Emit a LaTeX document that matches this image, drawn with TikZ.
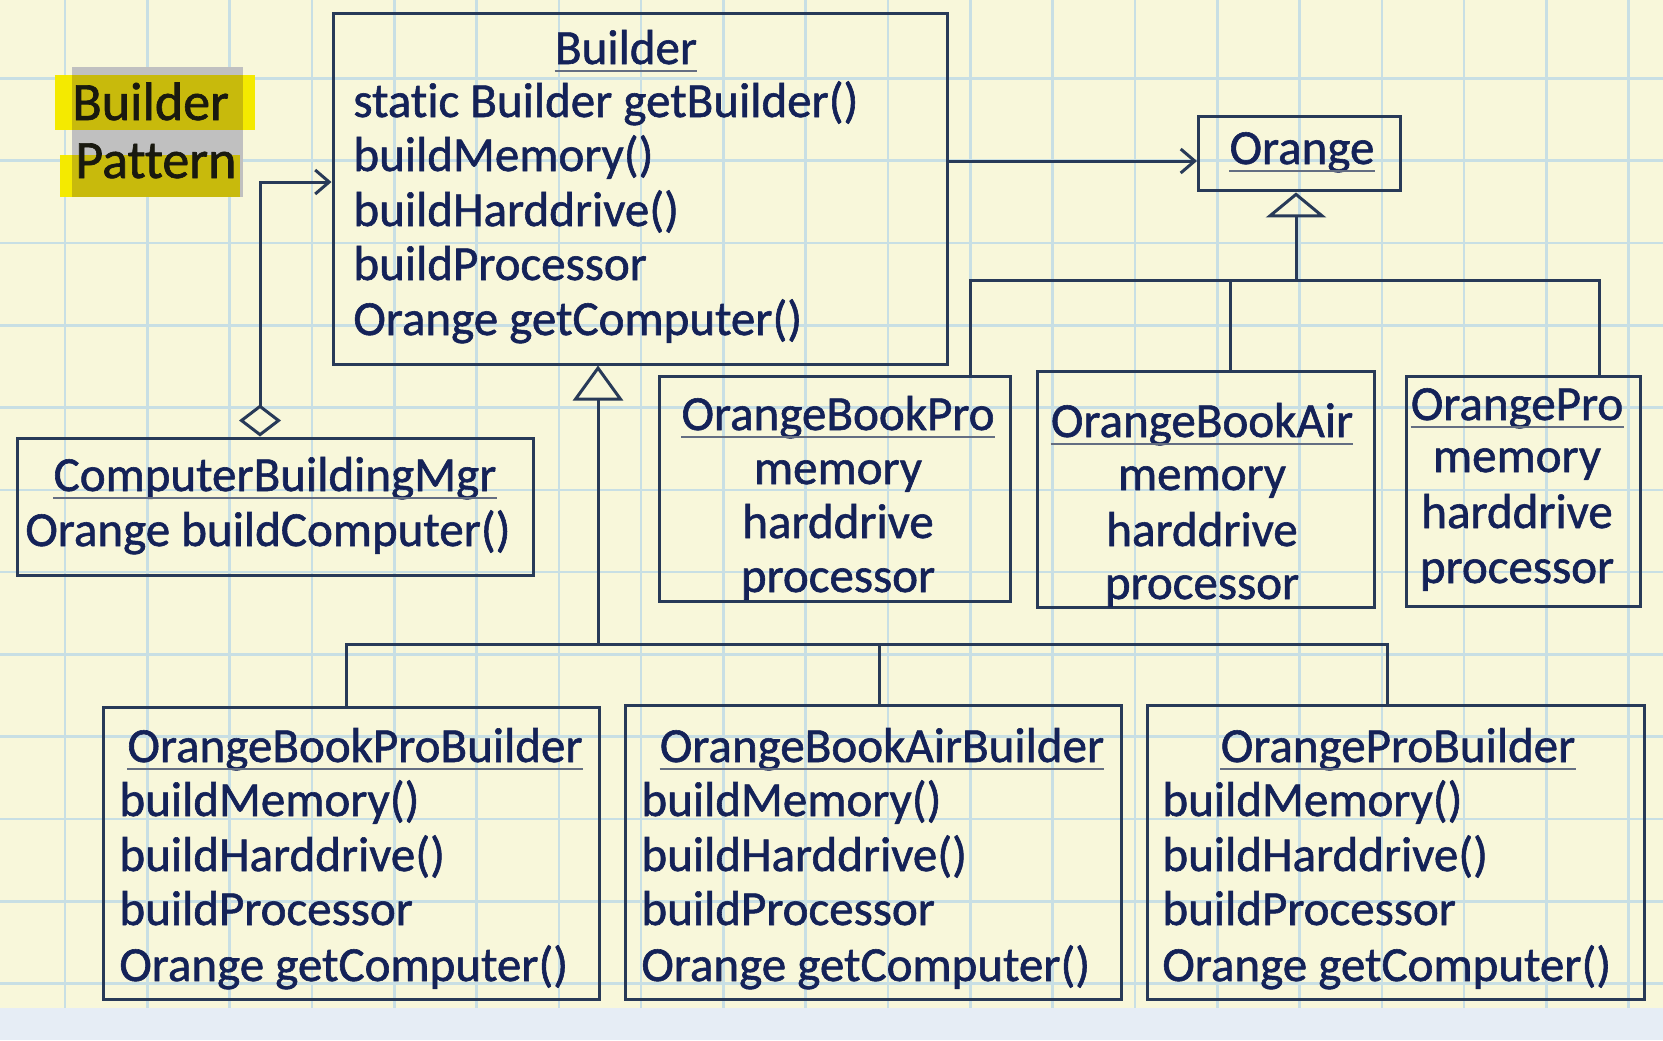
\documentclass[tikz,border=0pt]{standalone}
\usepackage{fontspec}
\setmainfont{Carlito}[Ligatures=NoCommon,FakeBold=1.2]
\usetikzlibrary{arrows.meta,fit}
\definecolor{bgc}{RGB}{248,247,218}
\definecolor{gridc}{RGB}{200,223,228}
\definecolor{bandc}{RGB}{230,237,245}
\definecolor{linec}{RGB}{40,58,88}
\definecolor{txtc}{RGB}{20,34,88}
\definecolor{ulc}{RGB}{100,110,130}
\definecolor{hlgray}{RGB}{192,192,192}
\definecolor{hlyel}{RGB}{244,234,0}
\definecolor{hlolive}{RGB}{200,186,12}
\definecolor{hltxt}{RGB}{25,25,15}
\begin{document}
\begin{tikzpicture}[x=0.5pt,y=-0.5pt,
  umlbox/.style={draw=linec,line width=1.5pt,inner sep=0pt},
  txt/.style={text=txtc,inner sep=0pt,font=\fontsize{24.5}{27}\selectfont},
  ttl/.style={txt,anchor=base},
  mth/.style={txt,anchor=base west},
  hl/.style={text=hltxt,inner sep=0pt,anchor=base west,font=\fontsize{27}{30}\selectfont},
  conn/.style={draw=linec,line width=1.5pt},
  gen/.style={conn,-{Triangle[open,width=25pt,length=17.5pt,line width=1.5pt]}},
  genflat/.style={conn,-{Triangle[open,width=30pt,length=12.5pt,line width=1.5pt]}},
  assoc/.style={conn,-{Straight Barb[length=7pt,width=12pt,line width=1.5pt]}},
  agg/.style={conn,{Diamond[open,length=16pt,width=21pt,line width=1.5pt]}-{Straight Barb[length=7pt,width=12pt,line width=1.5pt]}},
  ulline/.style={draw=ulc,line width=1pt},
  gridl/.style={draw=gridc,line width=1.3pt}]
\useasboundingbox (0,0) rectangle (1663,1040);
% background and grid
\fill[bgc] (0,0) rectangle (1663,1008);
\foreach \i in {0,...,19} {\draw[gridl] ({65+82.3*\i},0) -- ({65+82.3*\i},1008);}
\foreach \j in {1,...,12} {\draw[gridl] (0,{-4+82.3*\j}) -- (1663,{-4+82.3*\j});}
\fill[bandc] (0,1008) rectangle (1663,1040);
% title highlight
\fill[hlgray] (72,67) rectangle (243,197);
\fill[hlyel] (55,75) rectangle (255,130);
\fill[hlyel] (60,155) rectangle (240,197);
\fill[hlolive] (72,75) rectangle (243,130);
\fill[hlolive] (72,155) rectangle (240,197);
\node[hl] (hl1) at (72,120) {Builder};
\node[hl] (hl2) at (75,178) {Pattern};
% boxes
\node[umlbox,fit={(333,13) (947,364)}] (builder) {};
\node[umlbox,fit={(1198.5,116.7) (1400,190.9)}] (orange) {};
\node[umlbox,fit={(659.7,376.5) (1010.8,601.4)}] (obp) {};
\node[umlbox,fit={(1037.3,371.2) (1374.5,607.7)}] (oba) {};
\node[umlbox,fit={(1406.4,376.5) (1640.8,606.7)}] (op) {};
\node[umlbox,fit={(17,438) (533.5,575.9)}] (cbm) {};
\node[umlbox,fit={(103.9,707.4) (599.2,999.1)}] (obpb) {};
\node[umlbox,fit={(625.8,705.3) (1121,999.1)}] (obab) {};
\node[umlbox,fit={(1147.6,705.3) (1644,999.1)}] (opb) {};
% Builder texts
\node[ttl] (bT) at (626,64) {Builder};
\node[mth] (b1) at (353,117) {static Builder getBuilder()};
\node[mth] (b2) at (353,171) {buildMemory()};
\node[mth] (b3) at (353,226) {buildHarddrive()};
\node[mth] (b4) at (353,280) {buildProcessor};
\node[mth] (b5) at (353,335) {Orange getComputer()};
% Orange
\node[ttl] (oT) at (1302,164) {Orange};
% OrangeBookPro
\node[ttl] (obpT) at (838,430) {OrangeBookPro};
\node[ttl] (obp1) at (838,484) {memory};
\node[ttl] (obp2) at (838,538) {harddrive};
\node[ttl] (obp3) at (838,592) {processor};
% OrangeBookAir
\node[ttl] (obaT) at (1202,437) {OrangeBookAir};
\node[ttl] (oba1) at (1202,490) {memory};
\node[ttl] (oba2) at (1202,546) {harddrive};
\node[ttl] (oba3) at (1202,599) {processor};
% OrangePro
\node[ttl] (opT) at (1517,420) {OrangePro};
\node[ttl] (op1) at (1517,472) {memory};
\node[ttl] (op2) at (1517,528) {harddrive};
\node[ttl] (op3) at (1517,583) {processor};
% ComputerBuildingMgr
\node[ttl] (cbmT) at (275,491) {ComputerBuildingMgr};
\node[mth] (cbm1) at (25,546) {Orange buildComputer()};
% OrangeBookProBuilder
\node[ttl] (obpbT) at (355,762) {OrangeBookProBuilder};
\node[mth] (obpb1) at (119,816) {buildMemory()};
\node[mth] (obpb2) at (119,871) {buildHarddrive()};
\node[mth] (obpb3) at (119,925) {buildProcessor};
\node[mth] (obpb4) at (119,981) {Orange getComputer()};
% OrangeBookAirBuilder
\node[ttl] (obabT) at (882,762) {OrangeBookAirBuilder};
\node[mth] (obab1) at (641,816) {buildMemory()};
\node[mth] (obab2) at (641,871) {buildHarddrive()};
\node[mth] (obab3) at (641,925) {buildProcessor};
\node[mth] (obab4) at (641,981) {Orange getComputer()};
% OrangeProBuilder
\node[ttl] (opbT) at (1398,762) {OrangeProBuilder};
\node[mth] (opb1) at (1162,816) {buildMemory()};
\node[mth] (opb2) at (1162,871) {buildHarddrive()};
\node[mth] (opb3) at (1162,925) {buildProcessor};
\node[mth] (opb4) at (1162,981) {Orange getComputer()};
% underlines
\foreach \n in {bT,oT,obpT,obaT,opT,cbmT,obpbT,obabT,opbT}
  {\draw[ulline] ([yshift=-3.5pt]\n.base west) -- ([yshift=-3.5pt]\n.base east);}
% connectors
\coordinate (yBO) at (0,161);
\draw[assoc] (builder.east |- yBO) -- (orange.west |- yBO);
\coordinate (xAg) at (260,0);
\coordinate (yAg) at (0,182);
\draw[agg] (cbm.north -| xAg) |- (builder.west |- yAg);
% Orange hierarchy
\coordinate (jO) at (1296,280);
\coordinate (dObp) at (970,0);
\coordinate (dOba) at (1230,0);
\coordinate (dOp) at (1599,0);
\draw[genflat] (jO) -- (orange.south -| jO);
\draw[conn] (obp.north -| dObp) |- (jO);
\draw[conn] (op.north -| dOp) |- (jO);
\draw[conn] (oba.north -| dOba) -- (dOba |- jO);
% Builder hierarchy
\coordinate (jB) at (598,644);
\coordinate (dObpb) at (346,0);
\coordinate (dObab) at (879,0);
\coordinate (dOpb) at (1387,0);
\draw[gen] (jB) -- (builder.south -| jB);
\draw[conn] (obpb.north -| dObpb) |- (jB);
\draw[conn] (opb.north -| dOpb) |- (jB);
\draw[conn] (obab.north -| dObab) -- (dObab |- jB);
\end{tikzpicture}
\end{document}
